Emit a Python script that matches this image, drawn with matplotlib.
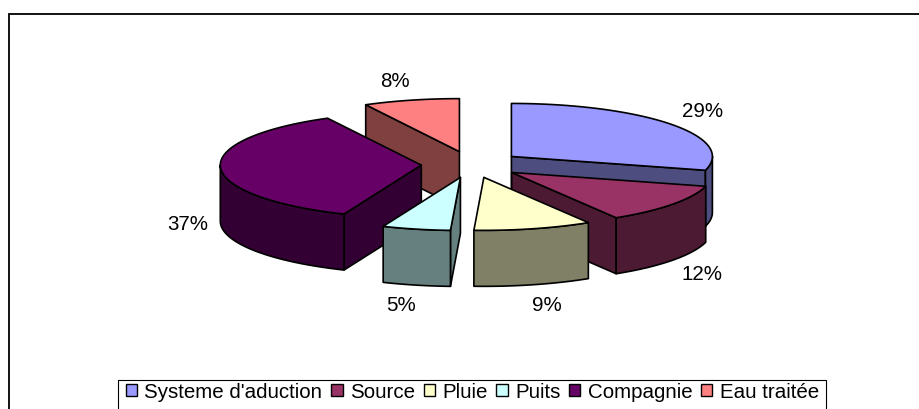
import matplotlib
matplotlib.use("Agg")
import matplotlib.pyplot as plt
from matplotlib.colors import to_rgb
from matplotlib.patches import Patch, Polygon, Rectangle
import numpy as np

categories = ["Systeme d'aduction", "Source", "Pluie", "Puits", "Compagnie", "Eau traitée"]
values = [29.2, 12.1, 9.49, 5.49, 36.0, 7.72]
pct_labels = ["29%", "12%", "9%", "5%", "37%", "8%"]
colors = ["#9999FF", "#993366", "#FFFFCC", "#CCFFFF", "#660066", "#FF8080"]

# pie geometry, in pixels
cx, cy = 471.5, 164.5
a, b = 201, 53
depth = 56
explode = 0.25

plt.rcParams["font.family"] = ["Liberation Sans", "DejaVu Sans"]
fs = 14.8

# nudge for the labels that don't sit quite where the rule puts them
label_dx = [1, -1, 4, -7, 5, -7]
label_dy = [0, 2, 0, 0, 0, 2]

fig = plt.figure(figsize=(9.2, 4.09), dpi=100)
ax = fig.add_axes([0, 0, 1, 1])
ax.set_xlim(0, 920)
ax.set_ylim(409, 0)
ax.axis("off")

# outer frame runs off the right and bottom of the picture
ax.add_patch(Rectangle((9.5, 14), 950, 450, fc="white", ec="black", lw=1.3))


def rim(x0, y0, t0, t1):
    t = np.radians(np.linspace(t0, t1, 80))
    return np.column_stack([x0 + a * np.sin(t), y0 - b * np.cos(t)])


def dark(col):
    return tuple(0.5 * c for c in to_rgb(col))


edges = np.concatenate([[0], np.cumsum(values)]) / sum(values) * 360
slices = []
for i in range(len(values)):
    t0, t1 = edges[i], edges[i + 1]
    mid = np.radians((t0 + t1) / 2)
    x0 = cx + explode * a * np.sin(mid)
    y0 = cy - explode * b * np.cos(mid)
    slices.append((abs(180 - np.degrees(mid)), i, t0, t1, x0, y0, mid))

# back slices first
for _, i, t0, t1, x0, y0, mid in sorted(slices, reverse=True, key=lambda s: s[0]):
    side = dark(colors[i])
    down = np.array([0, depth])
    apex = np.array([x0, y0])
    kw = dict(fc=side, ec="black", lw=1.2, joinstyle="round")
    for t, show in [(t0, 180 < t0 < 360), (t1, 0 < t1 < 180)]:
        if show:
            p = rim(x0, y0, t, t)[0]
            ax.add_patch(Polygon([apex, p, p + down, apex + down], **kw))
    lo, hi = max(t0, 90), min(t1, 270)
    if lo < hi:
        r = rim(x0, y0, lo, hi)
        ax.add_patch(Polygon(np.vstack([r, (r + down)[::-1]]), **kw))
    top = np.vstack([apex, rim(x0, y0, t0, t1)])
    ax.add_patch(Polygon(top, fc=colors[i], ec="black", lw=1.2, joinstyle="round"))

    # data label just outside the rim
    lx = x0 + (a + 38) * np.sin(mid) + label_dx[i]
    ly = y0 - (b + 21) * np.cos(mid) + label_dy[i]
    if np.cos(mid) < 0:
        ly += depth
    ax.text(lx, ly, pct_labels[i], ha="center", va="center", fontsize=fs, color="black")

# legend box is cut off by the bottom edge too
ax.add_patch(Rectangle((118, 380), 708, 50, fc="white", ec="black", lw=0.8))
handles = [Patch(fc=c, ec="black", lw=1.0) for c in colors]
ax.legend(handles, categories, ncol=6, loc="center left", bbox_to_anchor=(126 / 920, 1 - 392 / 409),
          frameon=False, fontsize=fs, handlelength=0.55, handleheight=0.55,
          handletextpad=0.35, columnspacing=0.43, borderpad=0, borderaxespad=0)

fig.savefig("out.png", dpi=100)
